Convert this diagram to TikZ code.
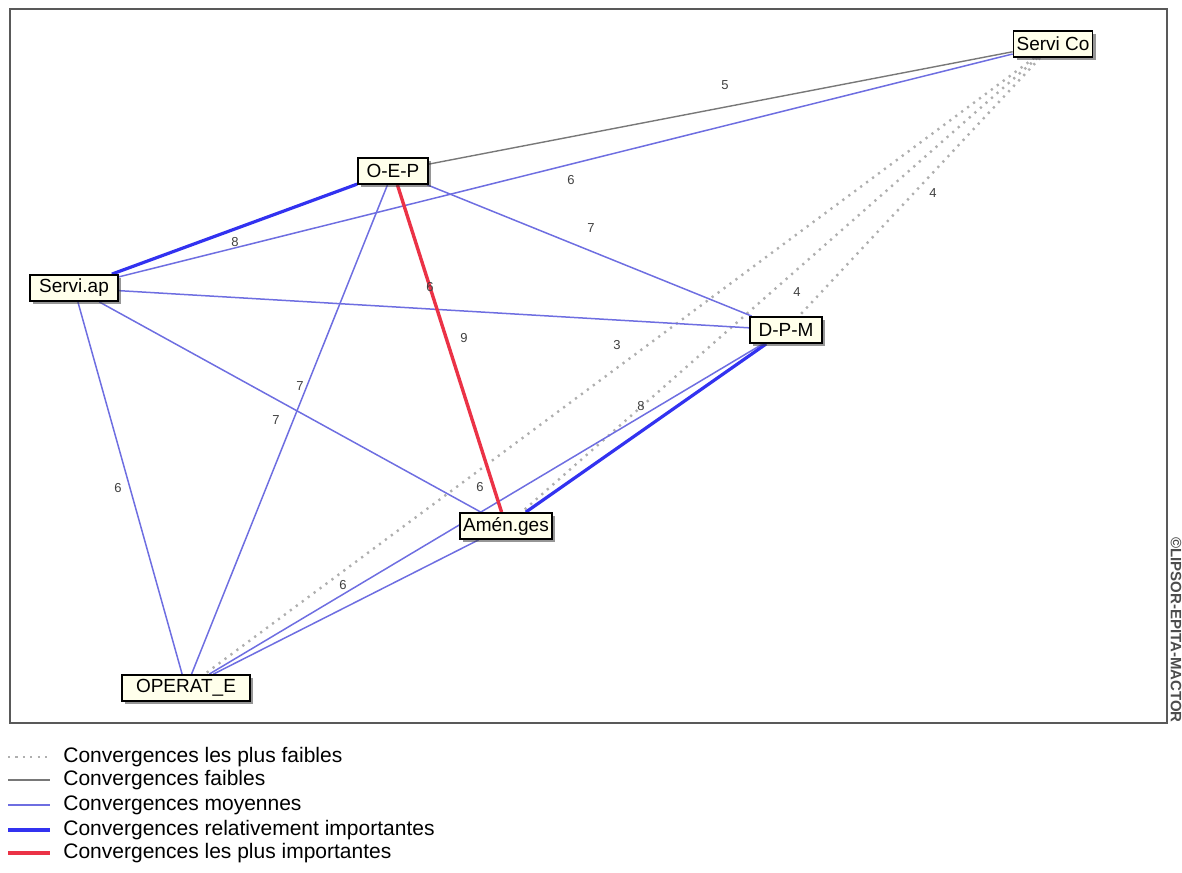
\documentclass[tikz,border=0pt]{standalone}
\usepackage{fontspec}
\setmainfont{Liberation Sans}
\usepackage{tikz}
\usetikzlibrary{shadows,backgrounds}
\usepackage{xcolor}
\definecolor{moyblue}{RGB}{110,110,225}
\definecolor{impblue}{RGB}{50,50,240}
\definecolor{topred}{RGB}{235,50,70}
\definecolor{faibgray}{RGB}{120,120,120}
\definecolor{dotgray}{RGB}{175,175,175}
\definecolor{boxfill}{RGB}{255,255,235}
\begin{document}
\begin{tikzpicture}[x=0.5pt,y=-0.5pt,font=\fontsize{9.5}{11}\selectfont,
acteur/.style={draw,line width=0.9pt,fill=boxfill,inner xsep=1.5pt,inner ysep=1pt,minimum height=13pt,drop shadow={shadow xshift=1.6pt,shadow yshift=-1.6pt,fill=black!75,opacity=0.55}},
val/.style={font=\fontsize{6.5}{7}\selectfont,text=black!75,inner sep=0.5pt},
leg/.style={anchor=west,inner sep=0pt,font=\fontsize{10.5}{12}\selectfont},
tplusfaible/.style={dotgray,line width=1.2pt,dash pattern=on 1.1pt off 2.6pt},
tfaible/.style={faibgray,line width=0.7pt},
tmoy/.style={moyblue,line width=0.75pt},
trel/.style={impblue,line width=1.6pt},
tplusimp/.style={topred,line width=1.7pt}]
\useasboundingbox(0,0)rectangle(1182,872);
\draw[black!65,line width=1.4pt](10,9)rectangle(1167,723);
\node[acteur,minimum width=35pt](sco) at (1053,44){Servi Co};
\node[acteur,minimum width=35pt](oep) at (393,171){O-E-P};
\node[acteur,minimum width=44pt](sap) at (74,288){Servi.ap};
\node[acteur,minimum width=36pt](dpm) at (786,330){D-P-M};
\node[acteur,minimum width=44pt](ame) at (506,526){Amén.ges};
\node[acteur,minimum width=64pt](ope) at (186,688){OPERAT\_E};
\begin{scope}[on background layer]
\draw[tplusfaible](sco)--(ope);\draw[tplusfaible](sco)--(dpm);\draw[tplusfaible](sco)--(ame);
\draw[tfaible](oep)--(sco);
\draw[tmoy](sap)--(sco);\draw[tmoy](oep)--(dpm);\draw[tmoy](oep)--(ope);\draw[tmoy](sap)--(dpm);\draw[tmoy](sap)--(ame);\draw[tmoy](sap)--(ope);\draw[tmoy](dpm)--(ope);\draw[tmoy](ame)--(ope);
\draw[trel](sap)--(oep);\draw[trel](dpm)--(ame);
\draw[tplusimp](oep)--(ame);
\end{scope}
\node[val](v1) at (725,85){5};\node[val](v2) at (571,180){6};\node[val](v3) at (933,193){4};
\node[val](v4) at (591,228){7};\node[val](v5) at (235,242){8};\node[val](v6) at (430,287){6};
\node[val](v7) at (797,292){4};\node[val](v8) at (464,338){9};\node[val](v9) at (617,345){3};
\node[val](v10) at (300,386){7};\node[val](v11) at (641,406){8};\node[val](v12) at (276,420){7};
\node[val](v13) at (118,488){6};\node[val](v14) at (480,487){6};\node[val](v15) at (343,585){6};
\node[font=\bfseries\fontsize{7.5}{8}\selectfont,text=black!70,rotate=-90,inner sep=0pt](wm) at (1176,630){©LIPSOR-EPITA-MACTOR};
\node[leg](lg1) at (63,757){Convergences les plus faibles};
\node[leg](lg2) at (63,780){Convergences faibles};
\node[leg](lg3) at (63,805){Convergences moyennes};
\node[leg](lg4) at (63,830){Convergences relativement importantes};
\node[leg](lg5) at (63,853){Convergences les plus importantes};
\draw[tplusfaible]([xshift=-27.5pt]lg1.west)--([xshift=-6.5pt]lg1.west);
\draw[tfaible]([xshift=-27.5pt]lg2.west)--([xshift=-6.5pt]lg2.west);
\draw[tmoy]([xshift=-27.5pt]lg3.west)--([xshift=-6.5pt]lg3.west);
\draw[trel]([xshift=-27.5pt]lg4.west)--([xshift=-6.5pt]lg4.west);
\draw[tplusimp]([xshift=-27.5pt]lg5.west)--([xshift=-6.5pt]lg5.west);
\end{tikzpicture}
\end{document}
